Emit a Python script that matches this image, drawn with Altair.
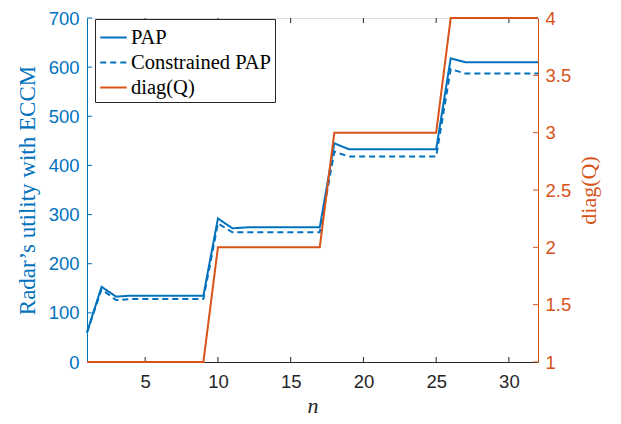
import altair as alt
import pandas as pd

# ---- data ----
n = list(range(1, 33))
pap = [60, 153, 133] + [135] * 6 + [292, 272] + [274] * 6 + [445] + [433] * 7 + [618] + [610] * 6
cpap = [60, 148, 126] + [128] * 6 + [282, 264] + [264] * 6 + [428] + [418] * 7 + [596] + [587] * 6
diagq = [1] * 9 + [2] * 8 + [3] * 8 + [4] * 7

series_names = ["PAP", "Constrained PAP", "diag(Q)"]
x_ticks = [5, 10, 15, 20, 25, 30]
left_ticks = [0, 100, 200, 300, 400, 500, 600, 700]
right_ticks = [1, 1.5, 2, 2.5, 3, 3.5, 4]

blue = "#0072BD"
orange = "#D95319"
dark = "#262626"
W, H = 451, 344

left_df = pd.DataFrame({
    "n": n * 2,
    "value": pap + cpap,
    "series": ["PAP"] * len(n) + ["Constrained PAP"] * len(n),
})
right_df = pd.DataFrame({"n": n, "value": diagq, "series": ["diag(Q)"] * len(n)})

xscale = alt.Scale(domain=[1, 32], nice=False, zero=False)
lscale = alt.Scale(domain=[0, 700], nice=False)
rscale = alt.Scale(domain=[1, 4], nice=False, zero=False)

color_scale = alt.Scale(domain=series_names, range=[blue, blue, orange])
dash_scale = alt.Scale(domain=series_names, range=[[1, 0], [6, 4], [1, 0]])

legend = alt.Legend(
    title=None, orient="none", legendX=8, legendY=1,
    strokeColor=dark, fillColor="white", padding=4, cornerRadius=0,
    labelFont="Liberation Serif", labelFontSize=20.5, labelColor="black",
    symbolType="stroke", symbolStrokeWidth=2, symbolSize=700,
    rowPadding=0, labelOffset=3,
)

x_axis = alt.Axis(
    values=x_ticks, ticks=False, grid=False, domainColor=dark, labelColor=dark,
    labelFont="Liberation Sans", labelFontSize=18.5, labelPadding=10,
    title="n", titleFont="Liberation Serif", titleFontStyle="italic",
    titleFontWeight="normal", titleFontSize=22, titleColor=dark, titlePadding=5,
)
l_axis = alt.Axis(
    orient="left", values=left_ticks, ticks=False, grid=False,
    domainColor=blue, labelColor=blue, labelFont="Liberation Sans",
    labelFontSize=18.5, labelPadding=8,
    title="Radar\u2019s utility with ECCM", titleFont="Liberation Serif",
    titleFontWeight="normal", titleFontSize=23, titleColor=blue, titlePadding=9,
)
r_axis = alt.Axis(
    orient="right", values=right_ticks, ticks=False, grid=False, format=".2~f",
    domainColor=orange, labelColor=orange, labelFont="Liberation Sans",
    labelFontSize=18.5, labelPadding=7, title="diag(Q)", titleAngle=270,
    titleFont="Liberation Serif", titleFontWeight="normal", titleFontSize=22,
    titleColor=orange, titlePadding=30,
)

left_lines = alt.Chart(left_df).mark_line(strokeWidth=2).encode(
    x=alt.X("n:Q", scale=xscale, axis=x_axis),
    y=alt.Y("value:Q", scale=lscale, axis=l_axis),
    color=alt.Color("series:N", scale=color_scale, legend=legend),
    strokeDash=alt.StrokeDash("series:N", scale=dash_scale, legend=legend),
)

left_tick_marks = alt.Chart(pd.DataFrame({"value": left_ticks})).mark_rule(color=blue, strokeWidth=1).encode(
    y=alt.Y("value:Q", scale=lscale, axis=l_axis),
    x=alt.value(0), x2=alt.value(5),
)

xtick_df = pd.DataFrame({"n": x_ticks})
bottom_ticks = alt.Chart(xtick_df).mark_rule(color=dark, strokeWidth=1).encode(
    x=alt.X("n:Q", scale=xscale, axis=x_axis), y=alt.value(H), y2=alt.value(H - 5)
)
top_ticks = alt.Chart(xtick_df).mark_rule(color=dark, strokeWidth=1).encode(
    x=alt.X("n:Q", scale=xscale, axis=x_axis), y=alt.value(0), y2=alt.value(5)
)

left = alt.layer(left_lines, left_tick_marks, bottom_ticks, top_ticks)

right_line = alt.Chart(right_df).mark_line(strokeWidth=2).encode(
    x=alt.X("n:Q", scale=xscale, axis=x_axis),
    y=alt.Y("value:Q", scale=rscale, axis=r_axis),
    color=alt.Color("series:N", scale=color_scale, legend=legend),
    strokeDash=alt.StrokeDash("series:N", scale=dash_scale, legend=legend),
)
right_tick_marks = alt.Chart(pd.DataFrame({"value": right_ticks})).mark_rule(color=orange, strokeWidth=1).encode(
    y=alt.Y("value:Q", scale=rscale, axis=r_axis),
    x=alt.value(W), x2=alt.value(W - 5),
)
right = alt.layer(right_line, right_tick_marks)

chart = alt.layer(left, right).resolve_scale(y="independent").properties(
    width=W, height=H,
    autosize=alt.AutoSizeParams(type="none"),
    padding={"left": 79, "top": 10, "right": 75, "bottom": 58},
).configure_view(stroke=dark, strokeWidth=1).configure(background="white")

chart.save("out.html", embed_options={"renderer": "svg", "actions": False})
